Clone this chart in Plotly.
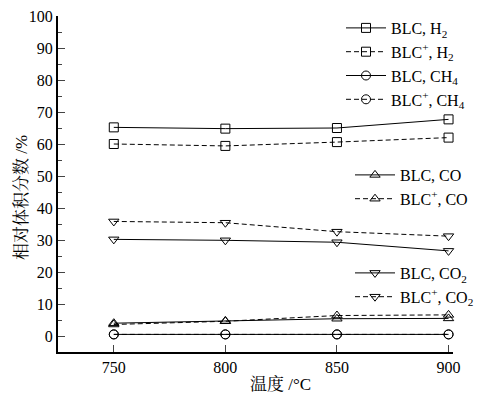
import plotly.graph_objects as go

temps = [750, 800, 850, 900]
blc_h2 = [65.2, 64.8, 65.0, 67.7]
blcp_h2 = [60.0, 59.4, 60.6, 62.0]
blc_ch4 = [0.5, 0.5, 0.5, 0.5]
blcp_ch4 = [0.5, 0.5, 0.5, 0.5]
blc_co = [4.0, 4.7, 5.4, 5.5]
blcp_co = [3.6, 4.6, 6.4, 6.6]
blc_co2 = [30.2, 29.9, 29.3, 26.6]
blcp_co2 = [35.8, 35.4, 32.6, 31.2]

names = ["BLC, H<sub>2</sub>", "BLC<sup>+</sup>, H<sub>2</sub>",
         "BLC, CH<sub>4</sub>", "BLC<sup>+</sup>, CH<sub>4</sub>",
         "BLC, CO", "BLC<sup>+</sup>, CO",
         "BLC, CO<sub>2</sub>", "BLC<sup>+</sup>, CO<sub>2</sub>"]
series = [blc_h2, blcp_h2, blc_ch4, blcp_ch4, blc_co, blcp_co, blc_co2, blcp_co2]
symbols = ["square-open", "square-open", "circle-open", "circle-open",
           "triangle-up-open", "triangle-up-open", "triangle-down-open", "triangle-down-open"]
legends = ["legend", "legend", "legend", "legend", "legend2", "legend2", "legend3", "legend3"]

FONT = "Liberation Serif, Times New Roman, Noto Serif CJK SC, Noto Sans CJK SC, serif"
W, H = 491, 398
L, R, T, B = 58, 38, 16, 46
PW, PH = W - L - R, H - T - B

fig = go.Figure()
for i, (nm, ys, sym, lg) in enumerate(zip(names, series, symbols, legends)):
    dash = "solid" if i % 2 == 0 else "5px,3px"
    fig.add_trace(go.Scatter(
        x=temps, y=ys, name=nm, mode="lines+markers", legend=lg,
        line=dict(color="black", width=1, dash=dash),
        marker=dict(symbol=sym, size=9, color="black", line=dict(width=1, color="black")),
        cliponaxis=False,
    ))

legend_common = dict(font=dict(family=FONT, size=16, color="black"),
                      bgcolor="rgba(0,0,0,0)", xref="container", yref="container",
                      xanchor="left", yanchor="top", tracegroupgap=0, itemwidth=40)

fig.update_layout(
    width=W, height=H,
    margin=dict(l=L, r=R, t=T, b=B, autoexpand=False),
    paper_bgcolor="white", plot_bgcolor="white",
    font=dict(family=FONT, size=16, color="black"),
    showlegend=True,
    legend=dict(x=341/W, y=1-11/H, **legend_common),
    legend2=dict(x=350/W, y=1-158/H, **legend_common),
    legend3=dict(x=350/W, y=1-256/H, **legend_common),
    xaxis=dict(range=[725, 902], tickvals=temps, ticks="inside", ticklen=7,
               showline=True, linecolor="black", linewidth=2, showgrid=False,
               zeroline=False, tickfont=dict(size=16)),
    yaxis=dict(range=[-5, 100], tickvals=list(range(0, 101, 10)), ticks="inside",
               ticklen=7, showline=True, linecolor="black", linewidth=2, showgrid=False,
               zeroline=False, tickfont=dict(size=16),
               minor=dict(ticks="inside", ticklen=4, dtick=5, tick0=0, showgrid=False)),
    annotations=[
        dict(text="温度 /°C", xref="paper", yref="paper",
             x=(280 - L) / PW, y=(H - B - 384) / PH, showarrow=False,
             xanchor="center", yanchor="middle", font=dict(size=17)),
        dict(text="相对体积分数 /%", xref="paper", yref="paper", textangle=-90,
             x=(21 - L) / PW, y=(H - B - 198) / PH, showarrow=False,
             xanchor="center", yanchor="middle", font=dict(size=17)),
    ],
)

fig.write_html("out.html")
